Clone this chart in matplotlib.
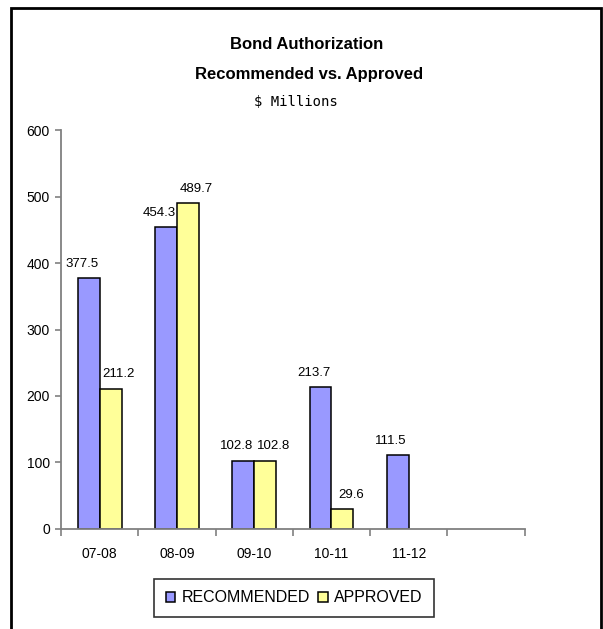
import numpy as np
import matplotlib
matplotlib.use("Agg")
import matplotlib.pyplot as plt
from matplotlib.patches import Rectangle

# fiscal years and bond amounts ($ millions)
years = ["07-08", "08-09", "09-10", "10-11", "11-12", ""]
recommended = [377.5, 454.3, 102.8, 213.7, 111.5, np.nan]
approved = [211.2, 489.7, 102.8, 29.6, np.nan, np.nan]

blue = "#9999FF"
yellow = "#FFFF99"
grey = "#808080"

plt.rcParams["font.family"] = ["Liberation Sans", "DejaVu Sans"]

fig = plt.figure(figsize=(6.03, 6.29), dpi=100)
ax = fig.add_axes([0.1012, 0.159, 0.7688, 0.6343])

x = np.arange(len(years))
w = 0.284
b1 = ax.bar(x - w / 2, recommended, w, color=blue, edgecolor="black", linewidth=1.1,
            label="RECOMMENDED")
b2 = ax.bar(x + w / 2, approved, w, color=yellow, edgecolor="black", linewidth=1.1,
            label="APPROVED")

# value labels above each bar, nudged apart so pairs don't collide
for bars, vals, dx in ((b1, recommended, -5), (b2, approved, 6)):
    for rect, v in zip(bars, vals):
        if np.isnan(v):
            continue
        ax.annotate(f"{v:.1f}", (rect.get_x() + rect.get_width() / 2, v),
                    xytext=(dx, 6), textcoords="offset points",
                    ha="center", va="bottom", fontsize=9.5)

ax.set_xlim(-0.5, len(years) - 0.5)
ax.set_ylim(0, 600)
ax.set_yticks(range(0, 601, 100))

# tick marks between categories, labels at the centres
ax.set_xticks(np.arange(-0.5, len(years)), [""] * (len(years) + 1))
ax.set_xticks(x, years, minor=True)
ax.tick_params(axis="x", which="major", length=5, width=1.2, color=grey, direction="out")
ax.tick_params(axis="x", which="minor", length=0, pad=13, labelsize=10)
ax.tick_params(axis="y", length=4, width=1.2, color=grey, pad=4, labelsize=10)

for side in ("top", "right"):
    ax.spines[side].set_visible(False)
for side in ("left", "bottom"):
    ax.spines[side].set_color(grey)
    ax.spines[side].set_linewidth(1.3)

fig.text(0.509, 0.9285, "Bond Authorization", ha="center", va="center",
         fontsize=12, fontweight="bold")
fig.text(0.512, 0.8808, "Recommended vs. Approved", ha="center", va="center",
         fontsize=12, fontweight="bold")
fig.text(0.491, 0.8378, "$ Millions", ha="center", va="center",
         fontsize=10, family="DejaVu Sans Mono")

leg = fig.legend(handles=[b1, b2], loc="center", bbox_to_anchor=(0.4876, 0.0493),
                 ncol=2, fontsize=11.5, frameon=True, fancybox=False,
                 handlelength=0.6, handleheight=0.6, handletextpad=0.4,
                 columnspacing=0.5, borderpad=0.7, borderaxespad=0)
leg.get_frame().set_edgecolor("black")
leg.get_frame().set_linewidth(1.2)

# outer border of the chart area
fig.add_artist(Rectangle((0.019, -0.05), 0.9777, 1.0365, transform=fig.transFigure,
                         fill=False, edgecolor="black", linewidth=2))

fig.savefig("out.png", dpi=100)
